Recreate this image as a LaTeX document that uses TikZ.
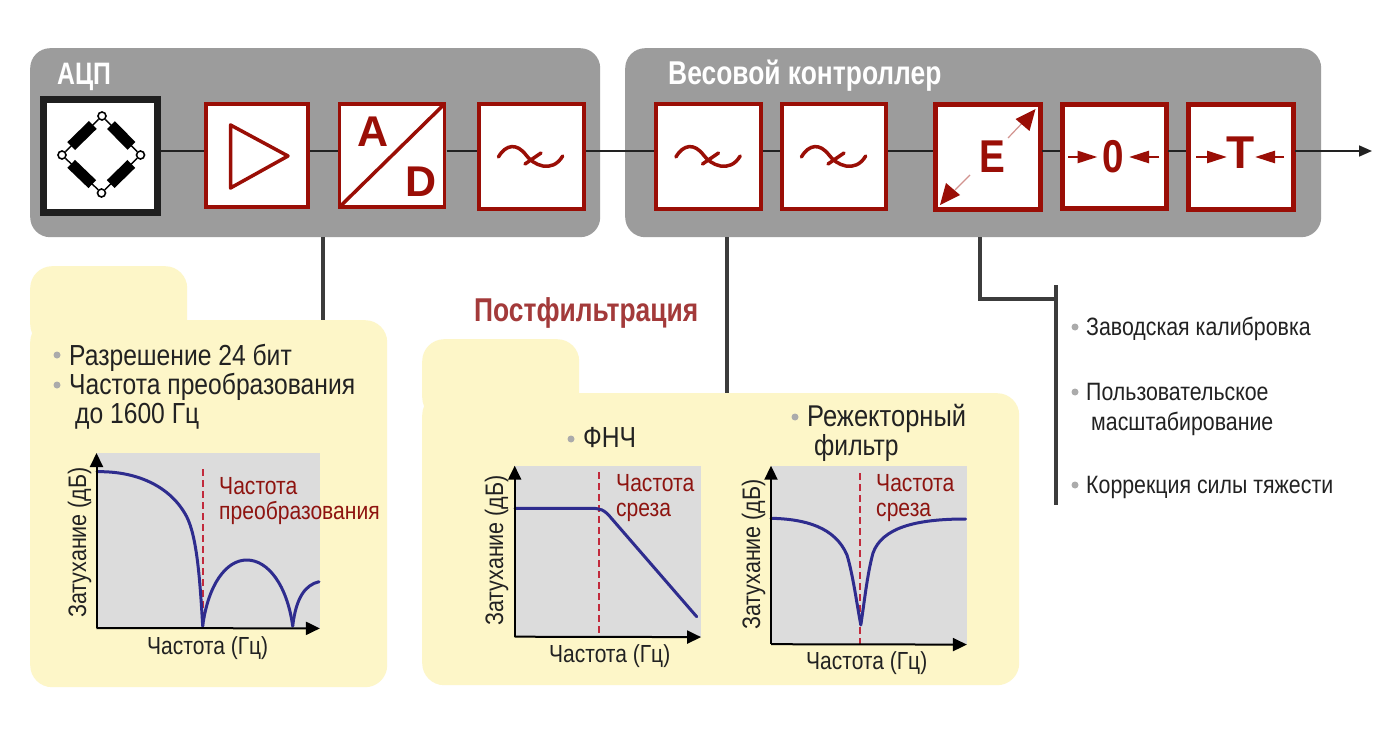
\documentclass[tikz,border=0pt]{standalone}
\usepackage{fontspec}
\usetikzlibrary{arrows.meta,calc}
\setmainfont{Liberation Sans}
\newfontfamily\cond[FakeStretch=0.85]{Liberation Sans}
\newfontfamily\condb[FakeStretch=0.80]{Liberation Sans Bold}
\newfontfamily\condc[FakeStretch=0.84]{Liberation Sans Bold}
\newfontfamily\plainb{Liberation Sans Bold}
\definecolor{panelgray}{HTML}{9C9C9C}
\definecolor{pale}{HTML}{FDF6C8}
\definecolor{boxred}{HTML}{9A0E06}
\definecolor{labred}{HTML}{8E1410}
\definecolor{stemc}{HTML}{3C3C3C}
\definecolor{ink}{HTML}{222222}
\definecolor{chartg}{HTML}{DCDCDC}
\definecolor{curve}{HTML}{2E2C8E}
\definecolor{dash}{HTML}{C22A3C}
\definecolor{bul}{HTML}{ABABAB}
\definecolor{head}{HTML}{A33A3A}
\tikzset{
 panel/.style={draw=none,fill=panelgray,rounded corners=20pt,inner sep=0,anchor=north west},
 pale box/.style={draw=none,fill=pale,rounded corners=22pt,inner sep=0,anchor=north west},
 block/.style={draw=boxred,line width=3.6pt,fill=white,inner sep=0,outer sep=0,anchor=north west},
 heavy block/.style={block,line width=5pt},
 glyph/.style={draw=boxred,line width=3.5pt,line cap=round,line join=round},
 wire/.style={draw=ink,line width=1.6pt},
 inwire/.style={wire,shorten >=2pt,shorten <=2pt},
 stem/.style={draw=stemc,line width=4pt},
 lab/.style={inner sep=0,anchor=base west,text=ink,font=\cond\fontsize{29}{34}\selectfont},
 small/.style={inner sep=0,anchor=base west,text=ink,font=\cond\fontsize{25.1}{30}\selectfont},
 redlab/.style={inner sep=0,anchor=base west,text=labred,font=\cond\fontsize{24.8}{30}\selectfont},
 axlab/.style={inner sep=0,anchor=base west,text=ink,font=\cond\fontsize{24.7}{30}\selectfont},
 ylab/.style={inner sep=0,anchor=base,rotate=90,text=ink,font=\cond\fontsize{25.3}{30}\selectfont},
 bullet/.style={circle,fill=bul,draw=none,inner sep=0,minimum size=7pt},
 chart/.style={fill=chartg,draw=none,inner sep=0,anchor=north west},
 axis/.style={draw=black,line width=2pt,-{Triangle[length=14pt,width=13pt]}},
 curveline/.style={draw=curve,line width=3pt,line cap=round,line join=round},
 cutoff/.style={draw=dash,line width=1.6pt,dash pattern=on 7pt off 4pt},
 term/.style={circle,draw=black,fill=white,line width=1.6pt,inner sep=0,minimum size=8pt},
 res/.style={draw=black,line width=11pt,shorten >=8pt,shorten <=8pt},
 redarrow/.style={draw=boxred,line width=2.6pt,-{Triangle[length=20pt,width=12pt]}},
 pics/filt/.style={code={
  \draw[glyph] (-32.6,1) .. controls (-25,-12) and (-14,-13) .. (-5,-1) .. controls (2,9) and (21,18) .. (31.7,0);
  \draw[glyph] (-6,8) -- (10,-3);
 }}
}
\begin{document}
\begin{tikzpicture}[x=1pt,y=-1pt]
\useasboundingbox (0,0) rectangle (1389,738);
\fill[white] (0,0) rectangle (1389,738);
% grey panels
\node[panel,minimum width=570pt,minimum height=189pt] (adc) at (30,48) {};
\node[panel,minimum width=696pt,minimum height=189pt] (ctl) at (625,48) {};
\node[inner sep=0,anchor=base west,text=white,font=\condb\fontsize{31}{36}\selectfont] (adct) at (57,85) {АЦП};
\node[inner sep=0,anchor=base west,text=white,font=\condb\fontsize{33}{38}\selectfont] (ctlt) at (668,85) {Весовой контроллер};
% pale panels
\node[pale box,minimum width=157pt,minimum height=80pt] (tab1) at (30,266) {};
\node[pale box,minimum width=357pt,minimum height=367pt] (pale1) at (30,320) {};
\node[pale box,minimum width=157pt,minimum height=80pt] (tab2) at (422,339) {};
\node[pale box,minimum width=597pt,minimum height=292pt] (pale2) at (422,393) {};
% wire level
\coordinate (w) at (0,151);
% blocks
\node[draw=black!88,line width=7pt,fill=white,inner sep=0,outer sep=0,anchor=north west,minimum width=114pt,minimum height=113pt] (sensor) at (43.5,99.5) {};
\node[block,minimum width=102pt,minimum height=103pt] (amp) at (206,104) {};
\node[block,minimum width=105pt,minimum height=103pt] (ad) at (339.5,104) {};
\node[block,minimum width=105pt,minimum height=105pt] (f0) at (479,104) {};
\node[block,line width=4.4pt,minimum width=105pt,minimum height=105pt] (f1) at (656,104) {};
\node[block,line width=4.4pt,minimum width=104pt,minimum height=105pt] (f2) at (782,104) {};
\node[heavy block,minimum width=105pt,minimum height=105pt] (e) at (935,104.5) {};
\node[heavy block,minimum width=104pt,minimum height=104pt] (zero) at (1062,104.5) {};
\node[heavy block,minimum width=105pt,minimum height=105pt] (tare) at (1188,104.5) {};
% wires
\coordinate (out) at (1372,151);
\draw[inwire] (sensor.east |- w) -- (amp.west |- w);
\draw[inwire] (amp.east |- w) -- (ad.west |- w);
\draw[inwire] (ad.east |- w) -- (f0.west |- w);
\draw[inwire] (f0.east |- w) -- (f1.west |- w);
\draw[inwire] (f1.east |- w) -- (f2.west |- w);
\draw[inwire] (f2.east |- w) -- (e.west |- w);
\draw[inwire] (e.east |- w) -- (zero.west |- w);
\draw[inwire] (zero.east |- w) -- (tare.west |- w);
\draw[wire,shorten <=2pt,-{Triangle[length=13pt,width=11pt]}] (tare.east |- w) -- (out);
% bridge
\node[term] (bt) at (102,116) {};
\node[term] (bl) at (62,155) {};
\node[term] (br) at (140.5,155) {};
\node[term] (bb) at (101.5,193) {};
\draw[black,line width=1.4pt] (bt) -- (bl) (bl) -- (bb) (bb) -- (br) (br) -- (bt);
\draw[res] (bt) -- (bl);
\draw[res] (bl) -- (bb);
\draw[res] (bb) -- (br);
\draw[res] (br) -- (bt);
% amplifier
\draw[glyph] (230.5,125) -- (288,156) -- (230.5,188) -- cycle;
% A/D
\draw[glyph,line cap=butt] (ad.south west) -- (ad.north east);
\node[inner sep=0,text=boxred,font=\plainb\fontsize{43}{48}\selectfont] (la) at (373,132) {A};
\node[inner sep=0,text=boxred,font=\plainb\fontsize{43}{48}\selectfont] (ld) at (421,182) {D};
% filters
\pic at (531,156) {filt};
\pic at (708.5,156) {filt};
\pic at (834,156) {filt};
% E
\node[inner sep=0,text=boxred,font=\condc\fontsize{46}{50}\selectfont] (le) at (992,157) {E};
\coordinate (e1) at (1008,138); \coordinate (e2) at (1035.5,109);
\coordinate (e3) at (970,175); \coordinate (e4) at (940,205);
\draw[draw=boxred!45,line width=1.2pt] (e1) -- ($(e1)!.5!(e2)$);
\draw[draw=boxred!45,line width=1.2pt] (e3) -- ($(e3)!.5!(e4)$);
\fill[boxred] (e2) -- ++(-6,22) -- ++(-14,-12) -- cycle;
\fill[boxred] (e4) -- ++(6,-22) -- ++(14,12) -- cycle;
% zero
\node[inner sep=0,text=boxred,font=\condc\fontsize{46}{50}\selectfont] (l0) at (1113,157) {0};
\coordinate (z1) at (1068,157); \coordinate (z2) at (1097.5,157);
\coordinate (z3) at (1159,157); \coordinate (z4) at (1129,157);
\draw[redarrow] (z1) -- (z2);
\draw[redarrow] (z3) -- (z4);
% tare
\node[inner sep=0,text=boxred,font=\plainb\fontsize{46}{50}\selectfont] (lt) at (1240.5,153) {T};
\coordinate (t1) at (1196,157); \coordinate (t2) at (1227,157);
\coordinate (t3) at (1284,157); \coordinate (t4) at (1255,157);
\draw[redarrow] (t1) -- (t2);
\draw[redarrow] (t3) -- (t4);
% stems
\coordinate (s1) at (322.5,237); \coordinate (s2) at (727,237); \coordinate (s3) at (980,237);
\draw[stem] (s1) -- (s1 |- pale1.north);
\draw[stem] (s2) -- (s2 |- pale2.north);
\coordinate (bar1) at (1056,285); \coordinate (bar2) at (1056,505);
\draw[stem] (s3) |- (1056,299);
\draw[stem] (bar1) -- (bar2);
% header
\node[inner sep=0,anchor=base west,text=head,font=\condb\fontsize{33}{38}\selectfont] (post) at (474,321) {Постфильтрация};
% panel 1 text
\node[bullet] (b1) at (57,355) {}; \node[lab] (t1) at (69,365) {Разрешение 24 бит};
\node[bullet] (b2) at (57,385) {}; \node[lab] (t2) at (69,394) {Частота преобразования};
\node[lab] (t3) at (75,423) {до 1600 Гц};
% chart 1
\node[chart,minimum width=223pt,minimum height=175pt] (c1) at (96.5,453) {};
\coordinate (c1o) at (96.5,628);
\draw[cutoff,line width=1.3pt] (203,469) -- (203,628);
\draw[curveline] (97,471.7) .. controls (135,471) and (170,485) .. (186.7,516.7) .. controls (197,537) and (200,580) .. (202.7,626);
\draw[curveline] (202.7,626) .. controls (208,585) and (226,560) .. (246.7,560) .. controls (268,560) and (287,585) .. (292.7,626);
\draw[curveline] (292.7,626) .. controls (296,598) and (305,585) .. (319,581.7);
\draw[axis] (c1o) -- (c1.north west);
\draw[axis] (c1o) -- (c1.south east);
\node[redlab] (r1) at (219,494) {Частота};
\node[redlab] (r2) at (219,519) {преобразования};
\node[axlab] (x1) at (147,654) {Частота (Гц)};
\node[ylab] (y1) at (86,542.5) {Затухание (дБ)};
% panel 2 text
\node[bullet] (b3) at (571,439) {}; \node[lab] (t4) at (583,447) {ФНЧ};
\node[bullet] (b4) at (795,417) {}; \node[lab,font=\cond\fontsize{30}{35}\selectfont] (t5) at (807,426) {Режекторный};
\node[lab] (t6) at (814,455) {фильтр};
% chart 2
\node[chart,minimum width=186pt,minimum height=171pt] (c2) at (514.7,465.7) {};
\coordinate (c2o) at (514.7,636.7);
\draw[cutoff] (599,472) -- (599,636.7);
\draw[curveline] (515,508.3) -- (590,508.3) .. controls (600,508.3) and (604,509) .. (612,519) -- (696.7,616.7);
\draw[axis] (c2o) -- (c2.north west);
\draw[axis] (c2o) -- (c2.south east);
\node[redlab] (r3) at (616,491) {Частота};
\node[redlab] (r4) at (616,516) {среза};
\node[axlab] (x2) at (549,662) {Частота (Гц)};
\node[ylab] (y2) at (503,550.5) {Затухание (дБ)};
% chart 3
\node[chart,minimum width=195.5pt,minimum height=178.5pt] (c3) at (771,465.7) {};
\coordinate (c3o) at (771,644.2);
\draw[cutoff] (860,473) -- (860,644.2);
\draw[curveline] (771,518.3) .. controls (805,519) and (835,527) .. (847,555) .. controls (853,575) and (857,605) .. (860.8,625) .. controls (864,605) and (867,575) .. (873,553) .. controls (882,528) and (915,519) .. (965.5,519);
\draw[axis] (c3o) -- (c3.north west);
\draw[axis] (c3o) -- (c3.south east);
\node[redlab] (r5) at (876,491) {Частота};
\node[redlab] (r6) at (876,516) {среза};
\node[axlab] (x3) at (806,669) {Частота (Гц)};
\node[ylab] (y3) at (760,554.5) {Затухание (дБ)};
% right list
\node[bullet] (b5) at (1075,327) {}; \node[small] (l1) at (1086,335) {Заводская калибровка};
\node[bullet] (b6) at (1075,392) {}; \node[small] (l2) at (1086,400) {Пользовательское};
\node[small] (l3) at (1091,430) {масштабирование};
\node[bullet] (b7) at (1075,485) {}; \node[small] (l4) at (1086,493) {Коррекция силы тяжести};
\end{tikzpicture}
\end{document}
